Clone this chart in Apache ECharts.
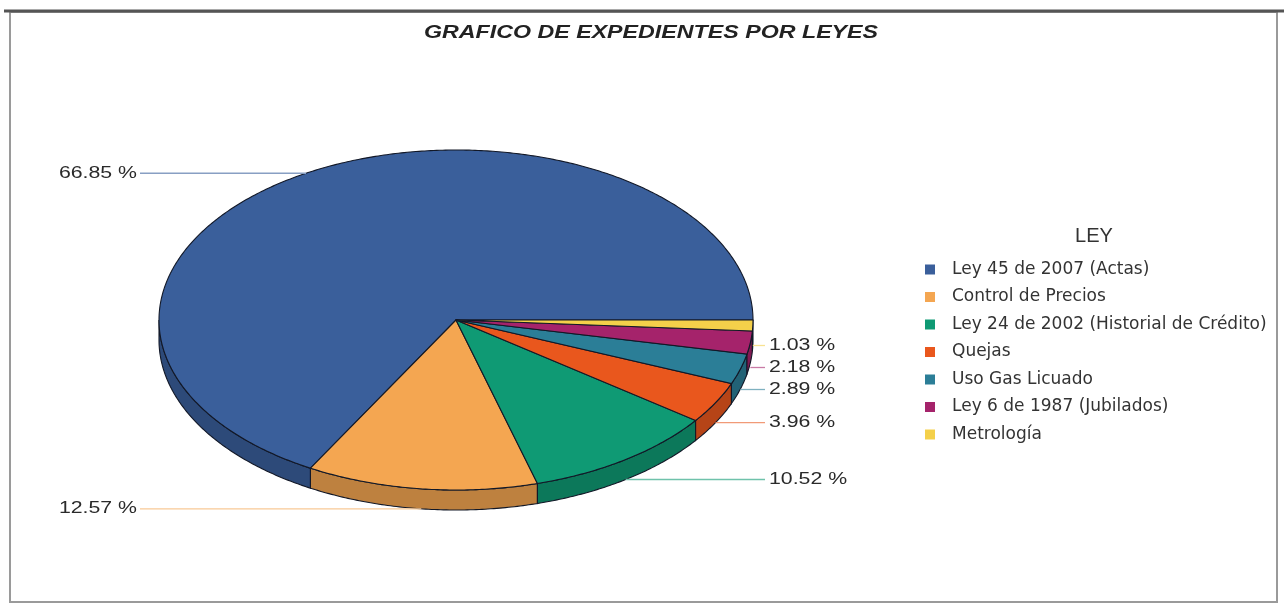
<!DOCTYPE html>
<html><head><meta charset="utf-8">
<script src="https://cdn.jsdelivr.net/npm/echarts@6/dist/echarts.min.js"></script>
<style>html,body{margin:0;padding:0;background:#fff}#c{width:1284px;height:608px}</style>
</head><body><div id="c"></div>
<script>
const chartTitle = 'GRAFICO DE EXPEDIENTES POR LEYES';
const legendTitle = 'LEY';
const categories = ['Ley 45 de 2007 (Actas)','Control de Precios','Ley 24 de 2002 (Historial de Crédito)','Quejas','Uso Gas Licuado','Ley 6 de 1987 (Jubilados)','Metrología'];
const percents = [66.85, 12.57, 10.52, 3.96, 2.89, 2.18, 1.03];
const colors = ['#3a5f9b','#f4a651','#0f9a74','#e9571d','#2b7e97','#a5236b','#f4d04a'];

// layout
const CX = 456, CY = 320, RX = 297, RY = 170, DEPTH = 20;
const LEFT_GAP = 19, RIGHT_GAP = 12, LABEL_MIN_GAP = 22;

const total = percents.reduce((a,b)=>a+b,0);
const starts = [], ends = [];
(function(){ let c = 0; percents.forEach(p=>{ starts.push(c/total*2*Math.PI); c += p; ends.push(c/total*2*Math.PI); }); })();

function pt(a, dy){ return [CX + RX*Math.cos(a), CY - RY*Math.sin(a) + (dy||0)]; }
function darken(c, f){
  const a = echarts.color.parse(c);
  return echarts.color.stringify([Math.round(a[0]*f), Math.round(a[1]*f), Math.round(a[2]*f), 1], 'rgba');
}

// label layout
const labelInfo = percents.map((p,i)=>{
  const m = (starts[i]+ends[i])/2;
  const front = Math.sin(m) < 0;
  const P = pt(m, front ? DEPTH : 0);
  return {i, m, P, right: Math.cos(m) >= 0, y: P[1]};
});
[true,false].forEach(side=>{
  const arr = labelInfo.filter(l=>l.right===side).sort((a,b)=>a.y-b.y);
  for (let k=1;k<arr.length;k++) if (arr[k].y - arr[k-1].y < LABEL_MIN_GAP) arr[k].y = arr[k-1].y + LABEL_MIN_GAP;
});

function arcPts(a1, a2, dy){
  const n = Math.max(2, Math.ceil((a2-a1)/0.01));
  const out = [];
  for (let k=0;k<=n;k++) out.push(pt(a1 + (a2-a1)*k/n, dy));
  return out;
}

const labelFont = {fill:'#2a2a2a', fontSize:16, fontFamily:'Liberation Sans, Arial, sans-serif', verticalAlign:'middle'};

function makeSeries(i){
  return {
    type:'custom', name: categories[i], coordinateSystem:'none',
    itemStyle:{color: colors[i]},
    data:[[percents[i]]],
    renderItem: function(params, api){
      const a1 = starts[i], a2 = ends[i];
      const children = [];
      const edge = '#121827';
      const s = Math.max(a1, Math.PI), e = Math.min(a2, 2*Math.PI);
      if (e > s) {
        const top = arcPts(s, e, 0);
        const bot = arcPts(s, e, DEPTH).reverse();
        children.push({type:'polygon', z2:1, shape:{points: top.concat(bot)},
          style:{fill: darken(colors[i], 0.78), stroke: edge, lineWidth: 1.1}});
      }
      children.push({type:'polygon', z2:10, shape:{points: [[CX,CY]].concat(arcPts(a1,a2,0))},
        style:{fill: colors[i], stroke: edge, lineWidth: 1.1}});
      const L = labelInfo[i];
      const lineColor = echarts.color.lift(colors[i], 0.4);
      const txt = api.value(0).toFixed(2) + ' %';
      if (L.right) {
        const xe = CX + RX + RIGHT_GAP;
        children.push({type:'polyline', z2:20, shape:{points:[[L.P[0], L.y],[xe, L.y]]}, style:{stroke: lineColor, lineWidth:1.3, fill:null}});
        children.push({type:'text', z2:21, x: xe + 4, y: L.y, scaleX: 1.33,
          style:Object.assign({text: txt, align:'left'}, labelFont)});
      } else {
        const xs = CX - RX - LEFT_GAP;
        children.push({type:'polyline', z2:20, shape:{points:[[xs, L.y],[L.P[0], L.y]]}, style:{stroke: lineColor, lineWidth:1.3, fill:null}});
        children.push({type:'text', z2:21, x: xs - 3, y: L.y, scaleX: 1.33,
          style:Object.assign({text: txt, align:'right'}, labelFont)});
      }
      return {type:'group', children};
    }
  };
}

const chart = echarts.init(document.getElementById('c'), null, {renderer:'canvas'});
chart.setOption({
  backgroundColor:'#fff',
  animation:false,
  legend:{
    orient:'vertical', left: 920, top: 256, icon:'rect', itemWidth:10, itemHeight:10, itemGap: 10.5,
    data: categories,
    textStyle:{color:'#333', fontSize:17, lineHeight:14, padding:[0,0,0,12], fontFamily:'DejaVu Sans, sans-serif'}
  },
  graphic:[
    {type:'rect', shape:{x:10, y:12, width:1267, height:590}, style:{fill:null, stroke:'#9a9a9a', lineWidth:2}},
    {type:'line', shape:{x1:4, y1:11, x2:1284, y2:11}, style:{stroke:'#555', lineWidth:3}},
    {type:'text', x:651, y:33, scaleX:1.29, style:{text: chartTitle, fill:'#222', font:'italic bold 18px "Liberation Sans", Arial, sans-serif', align:'center', verticalAlign:'middle'}},
    {type:'text', x:1094, y:236, style:{text: legendTitle, fill:'#333', font:'20px "Liberation Sans", Arial, sans-serif', align:'center', verticalAlign:'middle'}}
  ],
  series: categories.map((c,i)=>makeSeries(i))
});
</script></body></html>
